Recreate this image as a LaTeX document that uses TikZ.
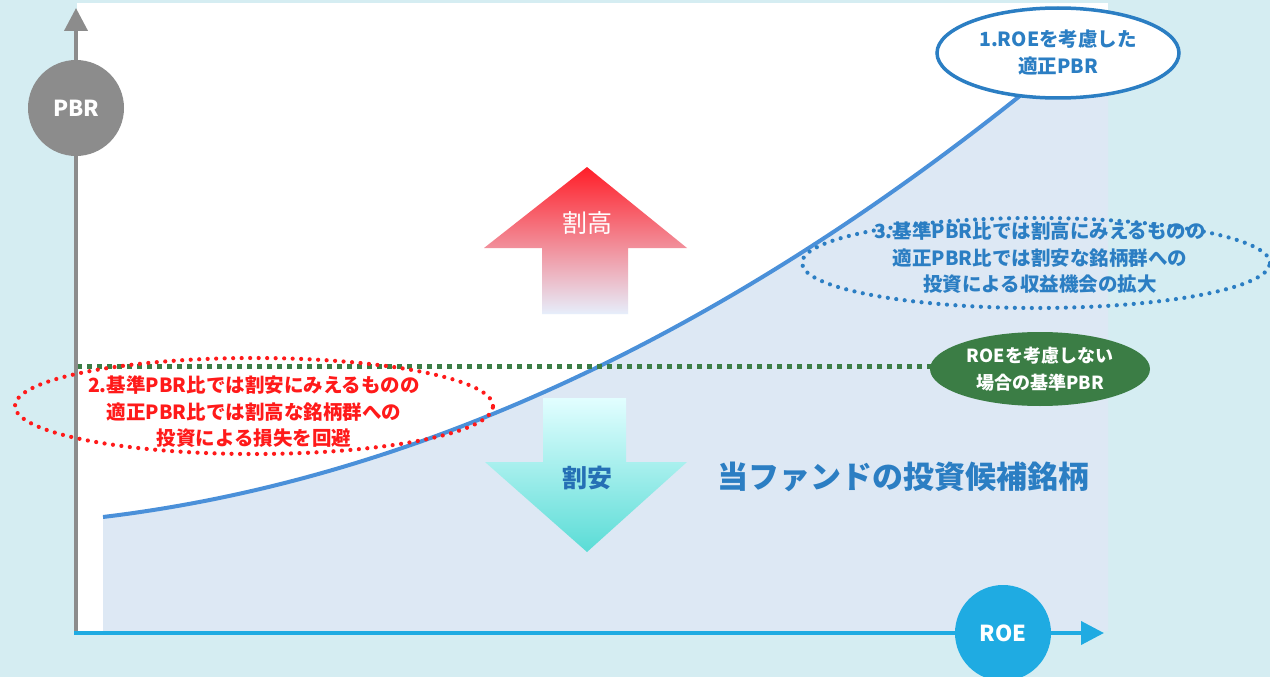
\documentclass[tikz,border=0pt]{standalone}
\usepackage{fontspec}
\setmainfont{Noto Sans CJK JP}
\usetikzlibrary{arrows.meta,shapes.geometric}
\definecolor{bgc}{HTML}{D5EDF2}
\definecolor{fillc}{HTML}{DDE8F4}
\definecolor{curvec}{HTML}{4A90D9}
\definecolor{axisc}{HTML}{1FABE2}
\definecolor{grayc}{HTML}{8C8C8C}
\definecolor{greenc}{HTML}{3B7D45}
\definecolor{bluet}{HTML}{2B7EC3}
\definecolor{redc}{HTML}{FF1A1A}
\definecolor{uptop}{HTML}{FF1E28}
\definecolor{upmid}{HTML}{F6B4C2}
\definecolor{upbot}{HTML}{E6EEFB}
\definecolor{dntop}{HTML}{E2FEFF}
\definecolor{dnbot}{HTML}{5ADCD6}
\definecolor{dntext}{HTML}{2570B5}
\tikzset{
  fs/.style={font=\fontsize{#1}{#1}\selectfont},
  bigcircle/.style={circle, minimum size=96pt, inner sep=0pt, text=white,
    font=\bfseries\fontsize{22}{26}\selectfont},
  lbl/.style={align=center, font=\bfseries\fontsize{19.5}{26.5}\selectfont},
  dotted ell/.style={ellipse, line width=4.2pt, line cap=round, dash pattern=on 0pt off 8.5pt},
  axisline/.style={line width=4pt, -{Triangle[length=23pt,width=23pt]}}
}
\begin{document}
\begin{tikzpicture}[x=1pt,y=-1pt]
\fill[bgc] (0,0) rectangle (1270,677);
\useasboundingbox (0,0) rectangle (1270,677);
% plot area
\fill[white] (77,3) rectangle (1108,631);
% region under curve
\fill[fillc] plot[domain=103:1108, samples=80] (\x, {631-(114+12*((\x-103)/100)+3.7*((\x-103)/100)^2)})
  -- (1108,631) -- (103,631) -- cycle;
\draw[curvec, line width=4pt] plot[domain=103:1100, samples=80] (\x, {631-(114+12*((\x-103)/100)+3.7*((\x-103)/100)^2)});

% green dotted reference line
\coordinate (gs) at (77,366);
\coordinate (ge) at (1040,366);
\draw[greenc, line width=5pt, dash pattern=on 5pt off 5pt] (gs) -- (ge);
\node[ellipse, fill=greenc, minimum width=220pt, minimum height=74pt, inner sep=0pt,
  text=white, align=center, font=\bfseries\fontsize{18}{27}\selectfont] (gebox) at (1040,369) {ROEを考慮しない\\場合の基準PBR};

% axes
\coordinate (yb) at (76,633);
\coordinate (yt) at (76,8);
\coordinate (xb) at (74,633);
\coordinate (xt) at (1104,633);
\draw[grayc, axisline] (yb) -- (yt);
\draw[axisc, axisline] (xb) -- (xt);
\node[bigcircle, fill=grayc] (pbr) at (76,108) {PBR};
\node[bigcircle, fill=axisc] (roe) at (1003,633) {ROE};

% up arrow
\shade[top color=uptop, middle color=upmid, bottom color=upbot]
  (587,167) -- (687,248) -- (628,248) -- (628,314) -- (542,314) -- (542,248) -- (484,248) -- cycle;
\node[text=white, fs=25] (takai) at (587,223) {割高};
% down arrow
\shade[top color=dntop, bottom color=dnbot]
  (543,398) -- (626,398) -- (626,462) -- (687,462) -- (587,552) -- (485,462) -- (543,462) -- cycle;
\node[text=dntext, font=\bfseries\fontsize{25}{25}\selectfont] (yasui) at (587,478) {割安};

% fund label
\node[text=bluet, font=\bfseries\fontsize{31}{31}\selectfont] (fund) at (903,477) {当ファンドの投資候補銘柄};

% ellipse 1
\node[ellipse, draw=bluet, line width=3.5pt, fill=white, minimum width=242pt, minimum height=90pt,
  inner sep=0pt, text=bluet, lbl, font=\bfseries\fontsize{19.5}{27}\selectfont] (e1) at (1058,53) {1.ROEを考慮した\\適正PBR};

% ellipse 3 (dotted blue)
\node[dotted ell, draw=bluet, minimum width=468pt, minimum height=90pt] (e3) at (1036,263) {};
\node[lbl, text=bluet] (t3) at (1040,258) {3.基準PBR比では割高にみえるものの\\適正PBR比では割安な銘柄群への\\投資による収益機会の拡大};

% ellipse 2 (dotted red)
\node[dotted ell, draw=redc, minimum width=478pt, minimum height=96pt] (e2) at (254,406) {};
\node[lbl, text=redc] (t2) at (254,412) {2.基準PBR比では割安にみえるものの\\適正PBR比では割高な銘柄群への\\投資による損失を回避};
\end{tikzpicture}
\end{document}
